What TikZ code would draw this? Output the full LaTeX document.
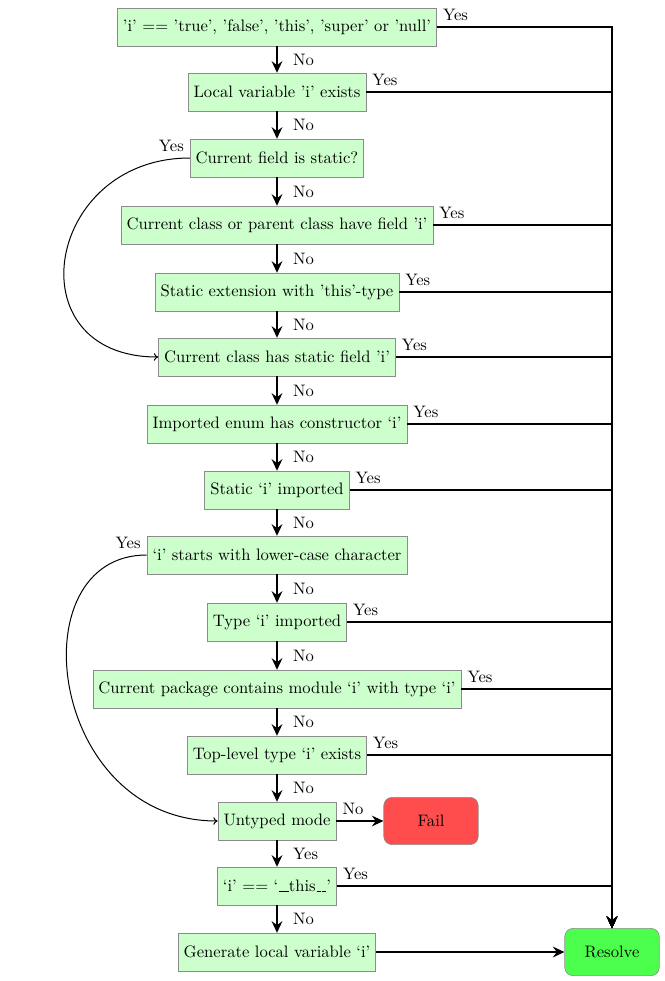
\documentclass[tikz,border=0pt]{standalone}
\usetikzlibrary{arrows.meta}
% short low dash, as the underscores in the identifier are set
\newcommand\lowbar{\kern.05em\vbox{\hrule width .27em}}
\begin{document}
\begin{tikzpicture}[x=0.6024pt,y=-0.6024pt,
  check/.style={draw=black!45,fill=green!20,minimum height=0.8cm,inner sep=3.33pt},
  endbox/.style={draw=black!45,rounded corners=5pt,minimum width=2cm,minimum height=1cm},
  tip/.style={-{Stealth[length=7pt,width=6.5pt,inset=2.4pt]}},
  flow/.style={thick,tip},
  yesflow/.style={line width=0.7pt,tip},
  skipline/.style={semithick,-{To[length=2.6pt,width=4.5pt]}},
  nolabel/.style={anchor=west,xshift=6pt},
  yeslabel/.style={pos=0,above right},
]
\useasboundingbox (0,0) rectangle (665,981);

% decision chain
\node[check] (n1)  at (277,27)  {'i' == 'true', 'false', 'this', 'super' or 'null'};
\node[check] (n2)  at (277,92)  {Local variable 'i' exists};
\node[check] (n3)  at (277,158) {Current field is static?};
\node[check] (n4)  at (277,225) {Current class or parent class have field 'i'};
\node[check] (n5)  at (277,292) {Static extension with 'this'-type};
\node[check] (n6)  at (277,357) {Current class has static field 'i'};
\node[check] (n7)  at (277,424) {Imported enum has constructor `i'};
\node[check] (n8)  at (277,490) {Static `i' imported};
\node[check] (n9)  at (277,555) {`i' starts with lower-case character};
\node[check] (n10) at (277,622) {Type `i' imported};
\node[check] (n11) at (277,689) {Current package contains module `i' with type `i'};
\node[check] (n12) at (277,755) {Top-level type `i' exists};
\node[check] (n13) at (277,821) {Untyped mode};
\node[check] (n14) at (277,886) {`i' == `\lowbar\lowbar this\lowbar\lowbar'};
\node[check] (n15) at (277,952) {Generate local variable `i'};

% outcomes
\node[endbox,fill=red!70]   (fail)    at (431,821) {Fail};
\node[endbox,fill=green!70] (resolve) at (612,952) {Resolve};

% "No" branches down the chain
\foreach \a/\b in {n1/n2,n2/n3,n3/n4,n4/n5,n5/n6,n6/n7,n7/n8,n8/n9,n9/n10,n10/n11,n11/n12,n12/n13,n14/n15}
  \draw[flow] (\a) -- node[nolabel] {No} (\b);
\draw[flow] (n13) -- node[nolabel] {Yes} (n14);
\draw[flow] (n13) -- node[yeslabel] {No} (fail);

% "Yes" branches to resolution
\foreach \a in {n1,n2,n4,n5,n6,n7,n8,n10,n11,n12,n14}
  \draw[yesflow] (\a.east) -| node[yeslabel] {Yes} (resolve.north);
\draw[flow] (n15) -- (resolve);

% skips
\draw[skipline] (n3.west) .. controls +(-145,0) and +(-145,0) .. node[pos=0,above left] {Yes} (n6.west);
\draw[skipline] (n9.west) .. controls +(-130,0) and +(-170,0) .. node[pos=0,above left] {Yes} (n13.west);
\end{tikzpicture}
\end{document}
